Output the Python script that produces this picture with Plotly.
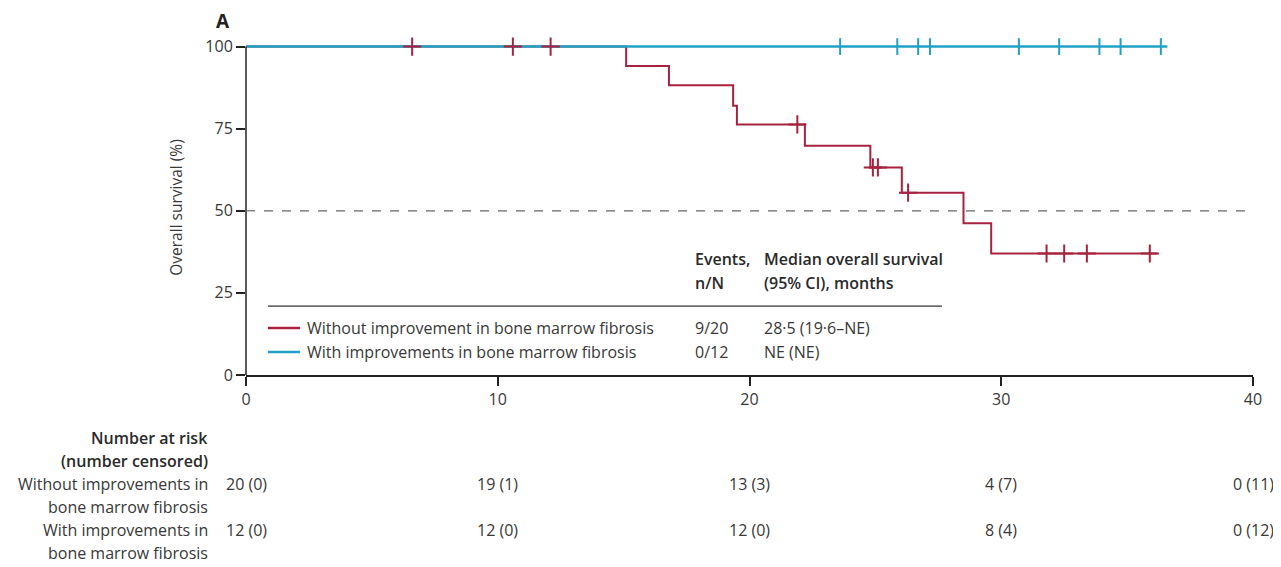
import plotly.graph_objects as go

# ---------------- data ----------------
red_event_times = [0, 15.1, 16.8, 19.35, 19.5, 22.2, 24.8, 26.05, 28.5, 29.6]
red_surv = [100, 94.1, 88.2, 82.0, 76.3, 69.8, 63.2, 55.5, 46.2, 37.0]
red_end = 36.2
red_censor_times = [6.6, 10.6, 12.1, 21.9, 24.9, 25.1, 26.3, 31.8, 32.5, 33.4, 35.9]

blue_event_times = [0]
blue_surv = [100]
blue_end = 36.6
blue_censor_times = [23.6, 25.87, 26.7, 27.17, 30.7, 32.3, 33.9, 34.74, 36.34]

x_ticks = [0, 10, 20, 30, 40]
y_ticks = [0, 25, 50, 75, 100]

legend_names = ["Without improvement in bone marrow fibrosis",
                "With improvements in bone marrow fibrosis"]
legend_events = ["9/20", "0/12"]
legend_median = ["28·5 (19·6–NE)", "NE (NE)"]

risk_without = ["20 (0)", "19 (1)", "13 (3)", "4 (7)", "0 (11)"]
risk_with = ["12 (0)", "12 (0)", "12 (0)", "8 (4)", "0 (12)"]

RED = "#A8223F"
BLUE = "#1FA2C3"
TXT = "#383838"
FONT = "Open Sans"

Y_TOP = 102  # small headroom so the line at 100 % is not clipped
PX_PER_UNIT = 3.28
PLOT_H = 100 * PX_PER_UNIT * Y_TOP / 100


def surv_at(t, times, surv):
    s = surv[0]
    for ti, si in zip(times, surv):
        if ti <= t:
            s = si
    return s


def py(px):
    """window pixel row -> paper y"""
    return (375 - px) / PLOT_H


fig = go.Figure()

# red curve (under blue)
fig.add_trace(go.Scatter(
    x=red_event_times + [red_end], y=red_surv + [red_surv[-1]],
    mode="lines", line=dict(color=RED, width=2, shape="hv"),
    cliponaxis=False, showlegend=False, hoverinfo="skip"))
# blue curve
fig.add_trace(go.Scatter(
    x=blue_event_times + [blue_end], y=blue_surv + [blue_surv[-1]],
    mode="lines", line=dict(color=BLUE, width=2.6, shape="hv"),
    cliponaxis=False, showlegend=False, hoverinfo="skip"))
# censor marks
fig.add_trace(go.Scatter(
    x=red_censor_times,
    y=[surv_at(t, red_event_times, red_surv) for t in red_censor_times],
    mode="markers",
    marker=dict(symbol="cross-thin", size=13, line=dict(color=RED, width=2)),
    cliponaxis=False, showlegend=False, hoverinfo="skip"))
fig.add_trace(go.Scatter(
    x=blue_censor_times,
    y=[surv_at(t, blue_event_times, blue_surv) for t in blue_censor_times],
    mode="markers",
    marker=dict(symbol="line-ns", size=12, line=dict(color=BLUE, width=2)),
    cliponaxis=False, showlegend=False, hoverinfo="skip"))

# y axis line drawn only from 0 to 100
fig.add_shape(type="line", xref="paper", yref="paper", x0=0, x1=0, y0=0, y1=100 / Y_TOP,
              line=dict(color="#222222", width=1.5))

# median dashed line
fig.add_shape(type="line", x0=0, x1=40, y0=50, y1=50, xref="x", yref="y",
              line=dict(color="#666666", width=1.2, dash="dash"))

# legend table
fig.add_shape(type="line", x0=0.87, x1=27.65, y0=21.0, y1=21.0, xref="x", yref="y",
              line=dict(color="#333333", width=1.2))
hdr_font = dict(family=FONT, size=16, color="#2a2a2a", weight=600)
fig.add_annotation(x=17.75, y=35.3, xref="x", yref="y", text="Events,", showarrow=False,
                   xanchor="left", yanchor="middle", font=hdr_font)
fig.add_annotation(x=17.75, y=28.0, xref="x", yref="y", text="n/N", showarrow=False,
                   xanchor="left", yanchor="middle", font=hdr_font)
fig.add_annotation(x=20.5, y=35.3, xref="x", yref="y", text="Median overall survival",
                   showarrow=False, xanchor="left", yanchor="middle", font=hdr_font)
fig.add_annotation(x=20.5, y=28.0, xref="x", yref="y", text="(95% CI), months",
                   showarrow=False, xanchor="left", yanchor="middle", font=hdr_font)
row_y = [14.3, 7.0]
for name, ev, med, col, yy in zip(legend_names, legend_events, legend_median, [RED, BLUE], row_y):
    fig.add_shape(type="line", x0=0.87, x1=2.15, y0=yy, y1=yy, xref="x", yref="y",
                  line=dict(color=col, width=2.5))
    rf = dict(family=FONT, size=16, color=TXT)
    fig.add_annotation(x=2.35, y=yy, xref="x", yref="y", text=name, showarrow=False,
                       xanchor="left", yanchor="middle", font=rf)
    fig.add_annotation(x=17.75, y=yy, xref="x", yref="y", text=ev, showarrow=False,
                       xanchor="left", yanchor="middle", font=rf)
    fig.add_annotation(x=20.5, y=yy, xref="x", yref="y", text=med, showarrow=False,
                       xanchor="left", yanchor="middle", font=rf)

# panel label
fig.add_annotation(x=-0.0228, y=py(21), xref="paper", yref="paper", text="A", showarrow=False,
                   xanchor="center", yanchor="middle",
                   font=dict(family=FONT, size=19, color="#222222", weight=700))

# risk table
lab_font = dict(family=FONT, size=16, color=TXT)
lab_bold = dict(family=FONT, size=16, color="#2a2a2a", weight=600)
labels = [("Number at risk", 438, lab_bold), ("(number censored)", 461, lab_bold),
          ("Without improvements in", 484, lab_font), ("bone marrow fibrosis", 507, lab_font),
          ("With improvements in", 530, lab_font), ("bone marrow fibrosis", 553, lab_font)]
for txt, ypx, f in labels:
    fig.add_annotation(x=-0.0357, y=py(ypx), xref="paper", yref="paper", text=txt,
                       showarrow=False, xanchor="right", yanchor="middle", font=f)
for xv, a, b in zip(x_ticks, risk_without, risk_with):
    fig.add_annotation(x=xv, y=py(484), xref="x", yref="paper", text=a, showarrow=False,
                       xanchor="center", yanchor="middle", font=lab_font)
    fig.add_annotation(x=xv, y=py(530), xref="x", yref="paper", text=b, showarrow=False,
                       xanchor="center", yanchor="middle", font=lab_font)

axis_common = dict(showgrid=False, zeroline=False, ticks="outside", ticklen=9, tickwidth=1.5,
                   tickcolor="#222222", tickfont=dict(family=FONT, size=16, color=TXT))
fig.update_xaxes(range=[0, 40], tickvals=x_ticks, showline=True, linecolor="#222222",
                 linewidth=1.5, **axis_common)
fig.update_yaxes(range=[0, Y_TOP], tickvals=y_ticks, showline=False,
                 title=dict(text="Overall survival (%)", standoff=18,
                            font=dict(family=FONT, size=15.5, color=TXT)),
                 **axis_common)

# the page body adds an 8 px offset, so the figure is sized to fit the window
fig.update_layout(width=1273, height=559, plot_bgcolor="white", paper_bgcolor="white",
                  margin=dict(l=238, r=28, t=559 - 192 - PLOT_H, b=192), showlegend=False,
                  font=dict(family=FONT, color=TXT))

fig.write_html("out.html")
